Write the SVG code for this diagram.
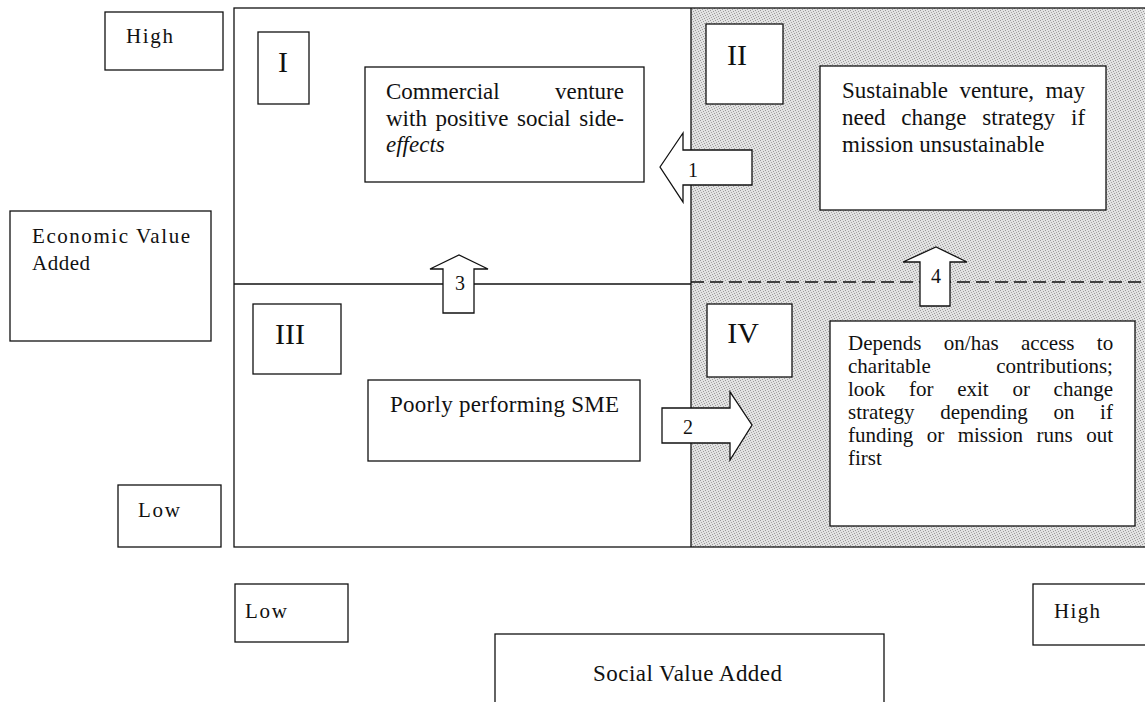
<svg xmlns="http://www.w3.org/2000/svg" width="1145" height="702" viewBox="0 0 1145 702">
<style>
.box{fill:#fff;stroke:#111;stroke-width:1.3}
.ln{stroke:#111;stroke-width:1.3;fill:none}
.arr{fill:#fff;stroke:#111;stroke-width:1.3;stroke-linejoin:miter}
text{font-family:"Liberation Serif","Times New Roman",serif;fill:#111}
.t{font-size:23px}
.d{font-size:21px}
.s{font-size:21px}
.n{font-size:20px;text-anchor:middle}
.r{font-size:30px;text-anchor:middle}
</style>
<defs>
<pattern id="stip" width="5" height="5" patternUnits="userSpaceOnUse">
<rect width="5" height="5" fill="#e2e2e2"/>
<rect x="0" y="0" width="1" height="1" fill="#999"/>
<rect x="3" y="1" width="1" height="1" fill="#9c9c9c"/>
<rect x="1" y="2" width="1" height="1" fill="#a5a5a5"/>
<rect x="4" y="3" width="1" height="1" fill="#999"/>
<rect x="2" y="4" width="1" height="1" fill="#a0a0a0"/>
</pattern>
</defs>
<rect width="1145" height="702" fill="#fff"/>
<g id="matrix">
<rect x="691" y="8" width="460" height="539" fill="url(#stip)"/>
<rect x="234" y="8" width="920" height="539" class="ln"/>
<line x1="691" y1="8" x2="691" y2="547" class="ln"/>
</g>
<g id="connectors">
<line x1="234" y1="284" x2="691" y2="284" class="ln"/>
<line x1="691" y1="282" x2="1145" y2="282" class="ln" stroke-dasharray="13 6"/>
<polygon class="arr" points="660,167 683,133 683,150 752,150 752,185 683,185 683,202"/>
<polygon class="arr" points="662,408 730,408 730,392 752,425 730,460 730,443 662,443"/>
<polygon class="arr" points="443,313 443,269 430,269 459,255 488,269 474,269 474,313"/>
<polygon class="arr" points="920,306 920,262 903,262 936,247 967,262 950,262 950,306"/>
<text class="n" x="693" y="177">1</text>
<text class="n" x="688" y="434">2</text>
<text class="n" x="460" y="290">3</text>
<text class="n" x="936" y="283">4</text>
</g>
<g id="high-y"><rect class="box" x="105" y="12" width="118" height="58"/><text class="s" x="126" y="43" textLength="47">High</text></g>
<g id="econ"><rect class="box" x="10" y="211" width="201" height="130"/><text class="s" x="32" y="243" textLength="158">Economic Value</text><text class="s" x="32" y="270" textLength="58">Added</text></g>
<g id="low-y"><rect class="box" x="118" y="485" width="103" height="62"/><text class="s" x="138" y="517" textLength="42">Low</text></g>
<g id="q1"><rect class="box" x="258" y="32" width="51" height="72"/><text class="r" x="283" y="72">I</text></g>
<g id="q2"><rect class="box" x="706" y="24" width="77" height="80"/><text class="r" x="737" y="65">II</text></g>
<g id="q3"><rect class="box" x="253" y="304" width="88" height="70"/><text class="r" x="290" y="344">III</text></g>
<g id="q4"><rect class="box" x="707" y="304" width="85" height="73"/><text class="r" x="743" y="343">IV</text></g>
<g id="commercial"><rect class="box" x="365" y="67" width="279" height="115"/>
<text class="t" y="99"><tspan x="386">Commercial</tspan><tspan x="555">venture</tspan></text>
<text class="t" y="126"><tspan x="386">with</tspan><tspan x="435.6">positive</tspan><tspan x="517">social</tspan><tspan x="579.3">side-</tspan></text>
<text class="t" y="152" x="386" font-style="italic">effects</text></g>
<g id="sustainable"><rect class="box" x="820" y="66" width="286" height="144"/>
<text class="t" y="98"><tspan x="842">Sustainable</tspan><tspan x="959.4">venture,</tspan><tspan x="1045.4">may</tspan></text>
<text class="t" y="125"><tspan x="842">need</tspan><tspan x="901.3">change</tspan><tspan x="982.3">strategy</tspan><tspan x="1071">if</tspan></text>
<text class="t" y="152" x="842">mission unsustainable</text></g>
<g id="poorly"><rect class="box" x="368" y="380" width="272" height="81"/><text class="t" x="390" y="412" textLength="229">Poorly performing SME</text></g>
<g id="depends"><rect class="box" x="830" y="321" width="305" height="205"/>
<text class="d" y="350"><tspan x="848">Depends</tspan><tspan x="943.8">on/has</tspan><tspan x="1020.9">access</tspan><tspan x="1096.8">to</tspan></text>
<text class="d" y="373"><tspan x="848">charitable</tspan><tspan x="996.3">contributions;</tspan></text>
<text class="d" y="396"><tspan x="848">look</tspan><tspan x="909">for</tspan><tspan x="957.2">exit</tspan><tspan x="1012.4">or</tspan><tspan x="1053.6">change</tspan></text>
<text class="d" y="419"><tspan x="848">strategy</tspan><tspan x="940.2">depending</tspan><tspan x="1053.4">on</tspan><tspan x="1100.1">if</tspan></text>
<text class="d" y="442"><tspan x="848">funding</tspan><tspan x="926.8">or</tspan><tspan x="957.7">mission</tspan><tspan x="1036.6">runs</tspan><tspan x="1086.2">out</tspan></text>
<text class="d" y="465" x="848">first</text></g>
<g id="low-x"><rect class="box" x="235" y="584" width="113" height="58"/><text class="s" x="245" y="618" textLength="42">Low</text></g>
<g id="social"><rect class="box" x="495" y="634" width="389" height="80"/><text class="t" x="593" y="681" textLength="189">Social Value Added</text></g>
<g id="high-x"><rect class="box" x="1033" y="584" width="120" height="61"/><text class="s" x="1054" y="618" textLength="46">High</text></g>
</svg>
